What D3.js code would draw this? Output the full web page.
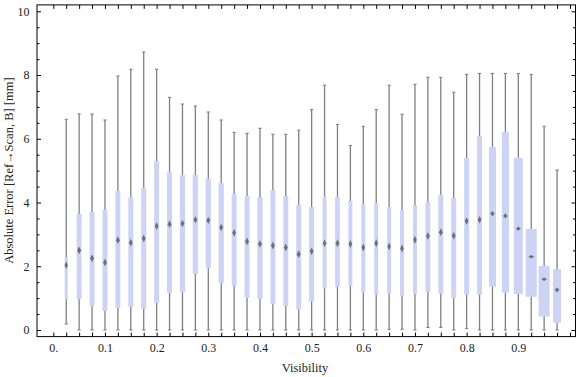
<!DOCTYPE html>
<html>
<head>
<meta charset="utf-8">
<script src="https://cdn.jsdelivr.net/npm/d3@7"></script>
<style>
  body { margin: 0; background: #fff; }
  svg { display: block; }
  text { font-family: "Liberation Serif", "DejaVu Serif", serif; fill: #222; }
</style>
</head>
<body>
<svg id="chart" width="576" height="377"></svg>
<script>
// visibility bins (box centres)
const visibility = d3.range(1, 40).map(i => i * 0.025)

// box-whisker statistics per bin, in mm
const maxVal = [6.61, 6.78, 6.78, 6.59, 7.97, 8.18, 8.72, 8.18, 7.30, 7.09, 7.03, 6.84, 6.59,
  6.20, 6.17, 6.33, 6.14, 6.14, 6.27, 6.92, 7.68, 6.45, 5.79, 6.39, 6.92, 7.68, 6.77,
  7.71, 7.93, 7.93, 7.46, 8.02, 8.05, 8.05, 8.05, 8.05, 8.02, 6.39, 5.02]
const q3 = [2.29, 3.64, 3.70, 3.77, 4.36, 4.17, 4.47, 5.30, 4.96, 4.86, 4.86, 4.74, 4.61,
  4.27, 4.20, 4.16, 4.39, 4.20, 3.92, 3.86, 4.19, 4.17, 4.05, 3.95, 3.98, 3.86, 3.77,
  3.91, 4.02, 4.24, 4.14, 5.40, 6.09, 5.74, 6.21, 5.40, 3.17, 2.01, 1.91]
const median = [2.03, 2.50, 2.25, 2.12, 2.82, 2.74, 2.87, 3.26, 3.32, 3.34, 3.46, 3.44, 3.22,
  3.05, 2.78, 2.70, 2.65, 2.59, 2.38, 2.47, 2.72, 2.72, 2.70, 2.59, 2.72, 2.62, 2.56,
  2.83, 2.95, 3.07, 2.96, 3.42, 3.46, 3.65, 3.58, 3.18, 2.30, 1.59, 1.26]
const q1 = [0.97, 0.97, 0.75, 0.60, 0.69, 0.73, 0.66, 0.85, 1.16, 1.19, 1.76, 1.95, 1.47,
  1.39, 1.01, 0.98, 0.81, 0.76, 0.64, 0.89, 1.30, 1.36, 1.39, 1.17, 1.11, 1.14, 1.08,
  1.13, 1.20, 1.14, 1.01, 1.11, 1.11, 1.36, 1.17, 1.13, 1.04, 0.42, 0.23]
const minVal = [0.19, 0, 0, 0, 0, 0, 0, 0, 0, 0, 0, 0, 0,
  0, 0, 0, 0, 0, 0, 0, 0, 0, 0, 0, 0, 0.02, 0.02,
  0, 0.08, 0.08, 0, 0.05, 0, 0, 0, 0, 0, 0, 0]
// relative box weight (box width)
const weight = [0.27, 0.45, 0.45, 0.45, 0.45, 0.45, 0.45, 0.45, 0.45, 0.48, 0.48, 0.48, 0.48,
  0.45, 0.45, 0.48, 0.45, 0.45, 0.45, 0.45, 0.36, 0.42, 0.36, 0.36, 0.36, 0.36, 0.36,
  0.36, 0.45, 0.45, 0.45, 0.45, 0.45, 0.64, 0.64, 0.82, 1.0, 1.0, 0.73]

const xMajor = [0, 0.1, 0.2, 0.3, 0.4, 0.5, 0.6, 0.7, 0.8, 0.9]
const xTickLabels = ['0.', '0.1', '0.2', '0.3', '0.4', '0.5', '0.6', '0.7', '0.8', '0.9']
const xMinor = d3.range(0, 41).map(i => i * 0.025)
const yMajor = [0, 2, 4, 6, 8, 10]
const yTickLabels = ['0', '2', '4', '6', '8', '10']
const yMinor = d3.range(0, 21).map(i => i * 0.5)

const frame = { left: 37, right: 575.5, top: 4.9, bottom: 336.6 }

const svg = d3.select('#chart')

const x = d3.scaleLinear().domain([0, 0.9]).range([53.3, 518.3])
const y = d3.scaleLinear().domain([0, 10]).range([330, 11.3])
const wScale = d3.scaleLinear().domain([0, 1]).range([0, 11])

let data = visibility.map((v, i) => ({
  v: v, max: maxVal[i], q3: q3[i], med: median[i], q1: q1[i], min: minVal[i], w: wScale(weight[i])
}))

let defs = svg.append('defs')
defs.append('filter').attr('id', 'soft')
  .append('feGaussianBlur').attr('stdDeviation', 0.45)

// whiskers
let g = svg.append('g')
g.selectAll('line.whisker').data(data).join('line')
  .attr('class', 'whisker')
  .attr('x1', d => x(d.v)).attr('x2', d => x(d.v))
  .attr('y1', d => y(d.min)).attr('y2', d => y(d.max))
  .attr('stroke', '#808080').attr('stroke-width', 1.3)

for (let key of ['min', 'max']) {
  g.selectAll('line.cap-' + key).data(data).join('line')
    .attr('class', 'cap-' + key)
    .attr('x1', d => x(d.v) - 1.6).attr('x2', d => x(d.v) + 1.6)
    .attr('y1', d => y(d[key])).attr('y2', d => y(d[key]))
    .attr('stroke', '#808080').attr('stroke-width', 1.1)
}

// boxes
g.selectAll('rect.box').data(data).join('rect')
  .attr('class', 'box')
  .attr('x', d => x(d.v) - d.w / 2)
  .attr('width', d => d.w)
  .attr('y', d => y(d.q3))
  .attr('height', d => y(d.q1) - y(d.q3))
  .attr('fill', '#ccd3f5')

// median markers
g.selectAll('path.med').data(data).join('path')
  .attr('class', 'med')
  .attr('d', d => {
    let mw = (2.2 + d.w * 0.32) / 2
    let mh = Math.min(4, 19 / d.w)
    let cx = x(d.v), cy = y(d.med)
    return `M${cx},${cy - mh}L${cx + mw},${cy}L${cx},${cy + mh}L${cx - mw},${cy}Z`
  })
  .attr('fill', '#6f6f6f')
  .attr('filter', 'url(#soft)')

// frame
svg.append('rect')
  .attr('x', frame.left).attr('y', frame.top)
  .attr('width', frame.right - frame.left).attr('height', frame.bottom - frame.top)
  .attr('fill', 'none').attr('stroke', '#000').attr('stroke-width', 1)

const fmtX = d => {
  let k = xMajor.findIndex(m => Math.abs(m - d) < 1e-9)
  return k < 0 ? '' : xTickLabels[k]
}
const fmtY = d => {
  let k = yMajor.findIndex(m => Math.abs(m - d) < 1e-9)
  return k < 0 ? '' : yTickLabels[k]
}

function styleAxis(sel) {
  sel.select('.domain').remove()
  sel.selectAll('line').attr('stroke', '#000')
  sel.selectAll('text').attr('font-size', 12).attr('fill', '#222')
    .attr('font-family', '"Liberation Serif", serif')
}

svg.append('g')
  .attr('transform', `translate(0,${frame.bottom})`)
  .call(d3.axisBottom(x).tickValues(xMinor).tickSizeInner(-4).tickSizeOuter(0)
    .tickPadding(7).tickFormat(fmtX))
  .call(styleAxis)

svg.append('g')
  .attr('transform', `translate(0,${frame.top})`)
  .call(d3.axisTop(x).tickValues(xMinor).tickSizeInner(-4).tickSizeOuter(0).tickFormat(''))
  .call(styleAxis)

let left = svg.append('g')
  .attr('transform', `translate(${frame.left},0)`)
  .call(d3.axisLeft(y).tickValues(yMinor).tickSizeInner(-2.5).tickSizeOuter(0)
    .tickPadding(7.5).tickFormat(fmtY))
  .call(styleAxis)
left.selectAll('.tick').filter(d => d % 2 === 0).select('line').attr('x2', 4)

let right = svg.append('g')
  .attr('transform', `translate(${frame.right},0)`)
  .call(d3.axisRight(y).tickValues(yMinor).tickSizeInner(-2.5).tickSizeOuter(0).tickFormat(''))
  .call(styleAxis)
right.selectAll('.tick').filter(d => d % 2 === 0).select('line').attr('x2', -4)

// axis titles
svg.append('text')
  .attr('x', 305).attr('y', 372)
  .attr('text-anchor', 'middle')
  .attr('font-size', 12.5)
  .text('Visibility')

svg.append('text')
  .attr('transform', `translate(13,${(y(0) + y(10)) / 2}) rotate(-90)`)
  .attr('text-anchor', 'middle')
  .attr('font-size', 12.5)
  .text('Absolute Error [Ref\u2192Scan, B] [mm]')
</script>
</body>
</html>
